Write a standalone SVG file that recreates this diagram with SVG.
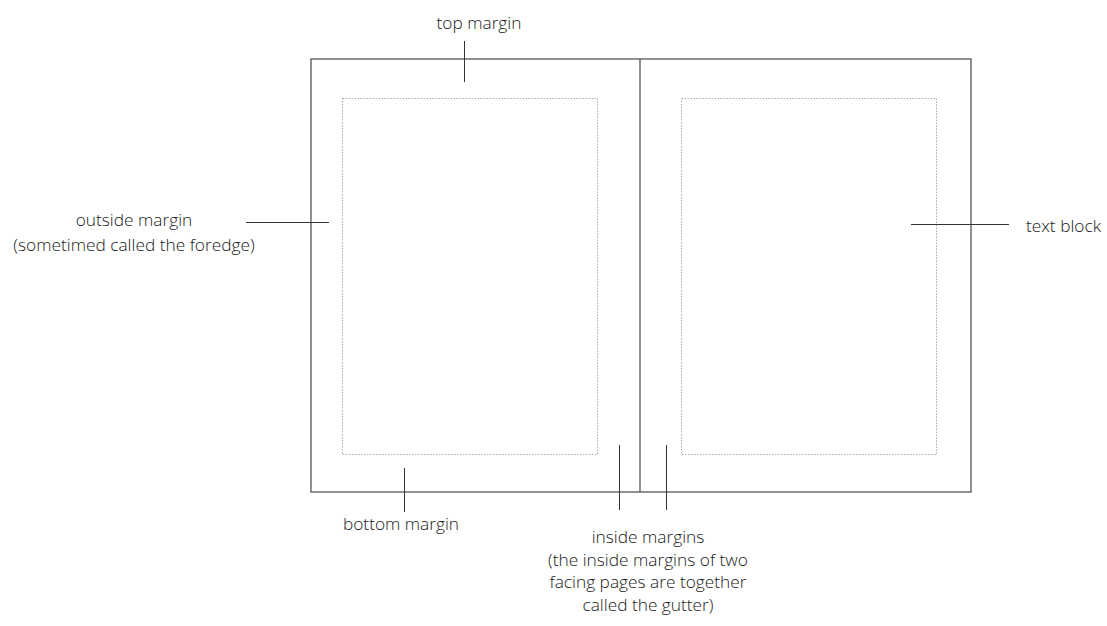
<svg xmlns="http://www.w3.org/2000/svg" width="1107" height="626" viewBox="0 0 1107 626">
<style>
.page{fill:none;stroke:#555;stroke-width:1.3}
.block{fill:none;stroke:#aaa;stroke-width:1;stroke-dasharray:1.5 1.5}
.lead{stroke:#333;stroke-width:1;fill:none}
text{font-family:"Open Sans","Liberation Sans",sans-serif;font-size:17.3px;font-weight:300;fill:#1a1a1a}
.m{text-anchor:middle}
</style>
<rect width="1107" height="626" fill="#fff"/>
<g id="spread">
<rect class="page" x="311" y="59" width="660" height="433"/>
<line class="page" x1="640" y1="59" x2="640" y2="492"/>
</g>
<g id="left-text-block"><rect class="block" x="342.5" y="98.5" width="255" height="356"/></g>
<g id="right-text-block"><rect class="block" x="681.5" y="98.5" width="255" height="356"/></g>
<g id="connectors">
<line class="lead" x1="464.5" y1="41" x2="464.5" y2="82"/>
<line class="lead" x1="246" y1="222.5" x2="329" y2="222.5"/>
<line class="lead" x1="404.5" y1="468" x2="404.5" y2="512"/>
<line class="lead" x1="619.5" y1="445" x2="619.5" y2="510"/>
<line class="lead" x1="666.5" y1="445" x2="666.5" y2="510"/>
<line class="lead" x1="911" y1="224.5" x2="1009" y2="224.5"/>
</g>
<g id="label-top"><text class="m" x="479" y="29">top margin</text></g>
<g id="label-outside"><text class="m" x="134" y="226">outside margin</text><text class="m" x="134" y="251">(sometimed called the foredge)</text></g>
<g id="label-bottom"><text class="m" x="401" y="530">bottom margin</text></g>
<g id="label-inside"><text class="m" x="648" y="543">inside margins</text><text class="m" x="648" y="565.5">(the inside margins of two</text><text class="m" x="648" y="588">facing pages are together</text><text class="m" x="648" y="610.5">called the gutter)</text></g>
<g id="label-text-block"><text x="1026" y="232">text block</text></g>
</svg>
